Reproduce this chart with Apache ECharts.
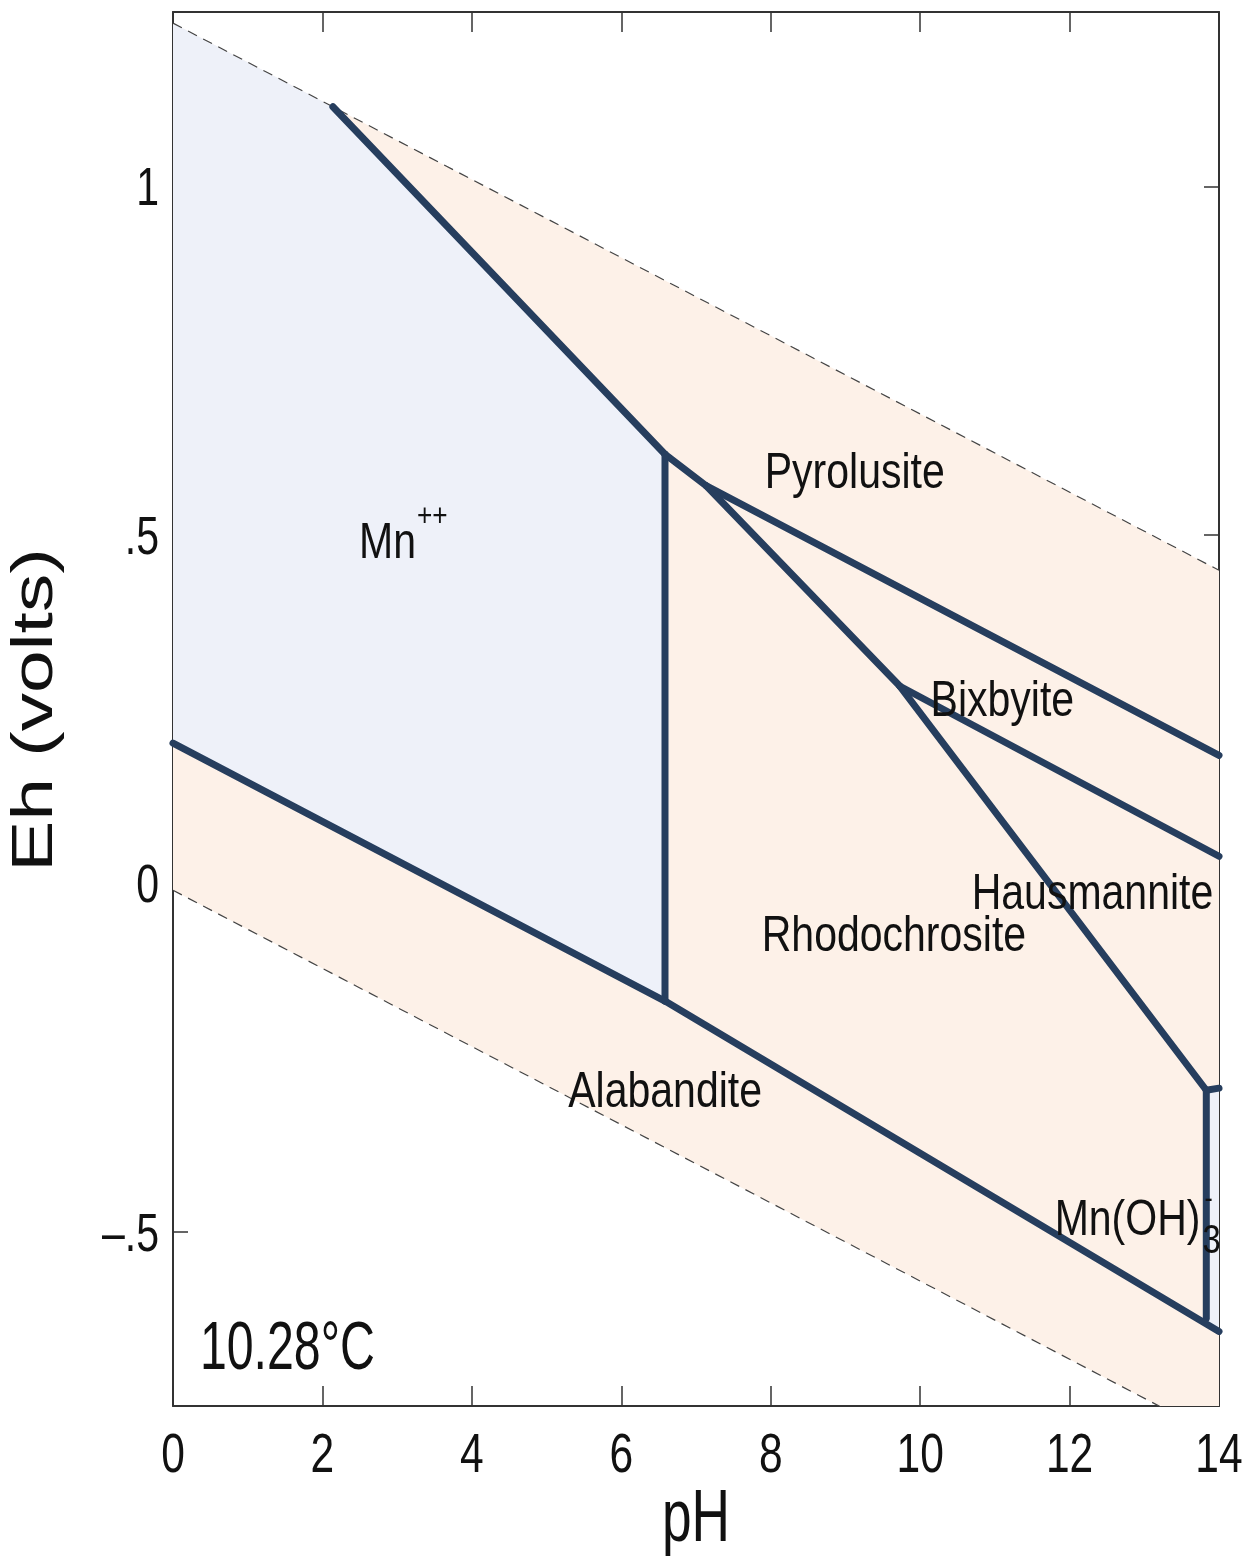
<!DOCTYPE html>
<html>
<head>
<meta charset="utf-8">
<script src="https://cdn.jsdelivr.net/npm/echarts@6/dist/echarts.min.js"></script>
<style>html,body{margin:0;padding:0;background:#fff}#c{width:1245px;height:1560px}</style>
</head>
<body>
<div id="c"></div>
<script>
// ---- data ----
const pHMin = 0, pHMax = 14, pHInterval = 2;
const pHTicks = [0, 2, 4, 6, 8, 10, 12, 14];
const pHTickLabels = ['0', '2', '4', '6', '8', '10', '12', '14'];
const ehMin = -0.75, ehMax = 1.25;
const ehTicks = [-0.5, 0, 0.5, 1];
const ehTickLabels = ['–.5', '0', '.5', '1'];
const xTitle = 'pH';
const yTitle = 'Eh (volts)';

// water stability limits (dashed)
const waterUpper = [[0, 1.234], [14, 0.449]];
const waterLower = [[0, -0.01], [14, -0.795]];

// field polygons
const stabilityArea = [[0, 1.234], [14, 0.449], [14, -0.795], [0, -0.01]];
const mnPlusArea = [[0, 1.234], [2.14, 1.114], [6.585, 0.6155], [6.585, -0.169], [0, 0.2009]];
const mnOH3Area = [[13.83, -0.297], [14, -0.294], [14, -0.643], [13.83, -0.632]];

// reaction boundaries (thick lines)
const bMnPyro = [[2.14, 1.114], [6.585, 0.6155]];
const bRhodPyro = [[6.585, 0.6155], [7.14, 0.570]];
const bBixPyro = [[7.14, 0.570], [14, 0.1836]];
const bRhodBix = [[7.14, 0.570], [9.73, 0.2826]];
const bBixHaus = [[9.73, 0.2826], [14, 0.0387]];
const bRhodHaus = [[9.73, 0.2826], [13.83, -0.297]];
const bHausMnOH = [[13.83, -0.297], [14, -0.294]];
const bRhodMnOH = [[13.83, -0.297], [13.83, -0.624]];
const bMnRhod = [[6.585, 0.6155], [6.585, -0.169]];
const bMnAlab = [[0, 0.2009], [6.585, -0.169]];
const bRhodAlab = [[6.585, -0.169], [14, -0.643]];
const boundaries = [bMnPyro, bRhodPyro, bBixPyro, bRhodBix, bBixHaus, bRhodHaus, bHausMnOH, bRhodMnOH, bMnRhod, bMnAlab, bRhodAlab];

// field labels
const labelTexts = ['Mn', 'Pyrolusite', 'Bixbyite', 'Hausmannite', 'Rhodochrosite', 'Alabandite', 'Mn(OH)'];
const labelPH = [2.49, 7.92, 10.14, 10.69, 7.88, 5.29, 11.80];
const labelEh = [0.492, 0.5925, 0.265, -0.011, -0.072, -0.296, -0.4785];
const labelSup = ['++', '', '', '', '', '', '-'];
const labelSub = ['', '', '', '', '', '', '3'];
const tempText = '10.28°C';
const tempPH = 0.36, tempEh = -0.6636;

// ---- chart ----
const FONT = '"Liberation Sans", Arial, sans-serif';
const lineColor = '#263e5e';
const frame = '#333';
const ink = '#111';
const BASE_FIX = 4; // small vertical correction so cap centres sit on the anchor

const measureCtx = document.createElement('canvas').getContext('2d');
function textW(t, size) { measureCtx.font = size + 'px ' + FONT; return measureCtx.measureText(t).width; }

function txt(text, x, y, size, sx, align) {
  return { type: 'text', x, y: y + BASE_FIX, scaleX: sx,
    style: { text, fontSize: size, fontFamily: FONT, fill: ink, align: align || 'left', verticalAlign: 'middle' } };
}

function polySeries(area, color) {
  return {
    type: 'custom', clip: true, silent: true, z: 1,
    data: [[0, 0]],
    renderItem: (params, api) => ({
      type: 'polygon',
      shape: { points: area.map(p => api.coord(p)) },
      style: { fill: color }
    })
  };
}

const series = [
  polySeries(stabilityArea, '#fdf1e8'),
  polySeries(mnPlusArea, '#eef1f9'),
  polySeries(mnOH3Area, '#eef1f9'),
  { type: 'line', data: waterUpper, symbol: 'none', silent: true, z: 2,
    lineStyle: { color: '#444', width: 1.2, type: [10, 7] } },
  { type: 'line', data: waterLower, symbol: 'none', silent: true, z: 2,
    lineStyle: { color: '#444', width: 1.2, type: [10, 7] } }
];
boundaries.forEach(b => series.push({
  type: 'line', data: b, symbol: 'none', silent: true, z: 3,
  lineStyle: { color: lineColor, width: 7, cap: 'round', join: 'round' }
}));

// field labels
const LFS = 50, LSX = 0.82;
series.push({
  type: 'custom', silent: true, z: 4, clip: false,
  data: labelTexts.map((t, i) => [labelPH[i], labelEh[i], i]),
  encode: { x: 0, y: 1 },
  renderItem: (params, api) => {
    const i = api.value(2);
    const p = api.coord([labelPH[i], labelEh[i]]);
    const children = [txt(labelTexts[i], p[0], p[1], LFS, LSX)];
    const w = textW(labelTexts[i], LFS) * LSX;
    if (labelSup[i] && !labelSub[i]) children.push(txt(labelSup[i], p[0] + w + 1, p[1] - 27, 32, LSX));
    if (labelSub[i]) {
      children.push(txt(labelSub[i], p[0] + w + 2, p[1] + 21.5, 40, LSX));
      children.push(txt(labelSup[i], p[0] + w + 4, p[1] - 21, 30, LSX));
    }
    return { type: 'group', children };
  }
});

// temperature
series.push({
  type: 'custom', silent: true, z: 4, clip: false,
  data: [[tempPH, tempEh]],
  renderItem: (params, api) => {
    const p = api.coord([tempPH, tempEh]);
    return txt(tempText, p[0], p[1], 68, 0.71);
  }
});

// x tick labels + title
series.push({
  type: 'custom', silent: true, z: 5, clip: false,
  data: pHTicks.map((v, i) => [v, ehMin, i]),
  encode: { x: 0, y: 1 },
  renderItem: (params, api) => {
    const i = api.value(2);
    const p = api.coord([pHTicks[i], ehMin]);
    return txt(pHTickLabels[i], p[0], p[1] + 47, 56, 0.76, 'center');
  }
});
series.push({
  type: 'custom', silent: true, z: 5, clip: false,
  data: [[(pHMin + pHMax) / 2, ehMin]],
  renderItem: (params, api) => {
    const p = api.coord([(pHMin + pHMax) / 2, ehMin]);
    return txt(xTitle, p[0], p[1] + 110.5, 74, 0.72, 'center');
  }
});
// y tick labels
series.push({
  type: 'custom', silent: true, z: 5, clip: false,
  data: ehTicks.map((v, i) => [pHMin, v, i]),
  encode: { x: 0, y: 1 },
  renderItem: (params, api) => {
    const i = api.value(2);
    const p = api.coord([pHMin, ehTicks[i]]);
    return txt(ehTickLabels[i], p[0] - 14, p[1], 54, 0.76, 'right');
  }
});

const axisLine = { show: true, onZero: false, lineStyle: { color: frame, width: 2 } };

const option = {
  animation: false,
  backgroundColor: '#fff',
  grid: { left: 173, right: 26, top: 12, bottom: 154, containLabel: false, outerBoundsMode: 'none' },
  xAxis: [
    { type: 'value', min: pHMin, max: pHMax, interval: pHInterval, position: 'bottom',
      axisLine, splitLine: { show: false },
      axisTick: { inside: true, length: 20, lineStyle: { color: frame, width: 1.5 } },
      axisLabel: { show: false } },
    { type: 'value', min: pHMin, max: pHMax, interval: pHInterval, position: 'top',
      axisLine, splitLine: { show: false },
      axisTick: { inside: true, length: 20, lineStyle: { color: frame, width: 1.5 } },
      axisLabel: { show: false } }
  ],
  yAxis: [
    { type: 'value', min: ehMin, max: ehMax, position: 'left',
      axisLine, splitLine: { show: false },
      axisTick: { inside: true, length: 15, customValues: ehTicks, lineStyle: { color: frame, width: 1.5 } },
      axisLabel: { show: false } },
    { type: 'value', min: ehMin, max: ehMax, position: 'right',
      axisLine, splitLine: { show: false },
      axisTick: { inside: true, length: 15, customValues: ehTicks, lineStyle: { color: frame, width: 1.5 } },
      axisLabel: { show: false } }
  ],
  graphic: [{
    type: 'text', x: 36, y: 710, rotation: Math.PI / 2, scaleX: 1.32,
    style: { text: yTitle, fontSize: 58, fontFamily: FONT, fill: ink, align: 'center', verticalAlign: 'middle' }
  }],
  series
};

const chart = echarts.init(document.getElementById('c'), null, { renderer: 'canvas' });
chart.setOption(option);
</script>
</body>
</html>
